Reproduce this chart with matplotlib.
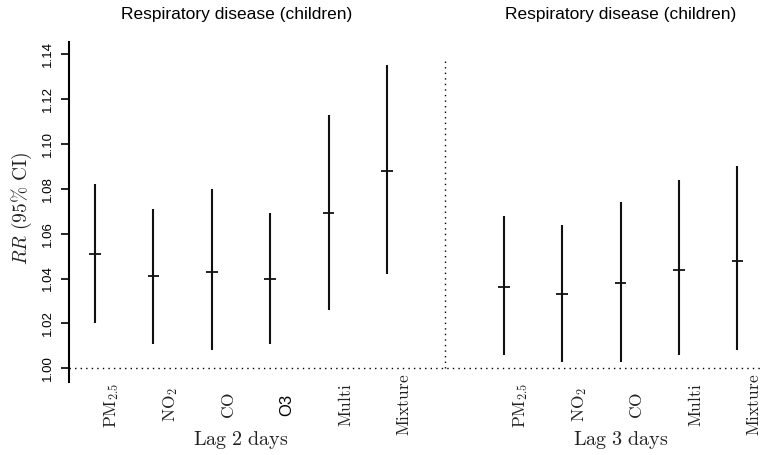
import matplotlib

matplotlib.use("Agg")
import matplotlib.pyplot as plt
import numpy as np

plt.rcParams["mathtext.fontset"] = "cm"
plt.rcParams["font.family"] = ["Liberation Sans", "DejaVu Sans"]

TITLE = "Respiratory disease (children)"

# lag 2 days
lag2_labels = [r"$\mathrm{PM}_{2.5}$", r"$\mathrm{NO}_2$", r"$\mathrm{CO}$", "O3",
               r"$\mathrm{Multi}$", r"$\mathrm{Mixture}$"]
lag2_rr = [1.051, 1.041, 1.043, 1.040, 1.069, 1.088]
lag2_lo = [1.020, 1.011, 1.008, 1.011, 1.026, 1.042]
lag2_hi = [1.082, 1.071, 1.080, 1.069, 1.113, 1.135]

# lag 3 days
lag3_labels = [r"$\mathrm{PM}_{2.5}$", r"$\mathrm{NO}_2$", r"$\mathrm{CO}$",
               r"$\mathrm{Multi}$", r"$\mathrm{Mixture}$"]
lag3_rr = [1.036, 1.033, 1.038, 1.044, 1.048]
lag3_lo = [1.006, 1.003, 1.003, 1.006, 1.008]
lag3_hi = [1.068, 1.064, 1.074, 1.084, 1.090]

yticks = [1.00, 1.02, 1.04, 1.06, 1.08, 1.10, 1.12, 1.14]

fig = plt.figure(figsize=(7.63, 4.55), dpi=100)
ax = fig.add_axes([0.0904, 0.1611, 0.9219, 0.7473])
ax.set_xlim(0.555, 12.6)
ax.set_ylim(0.994, 1.1456)

x2 = np.arange(1, len(lag2_rr) + 1)
x3 = np.arange(len(lag2_rr) + 2, len(lag2_rr) + 2 + len(lag3_rr))
div = len(lag2_rr) + 1

ink = "#111111"
for xs, rr, lo, hi in [(x2, lag2_rr, lag2_lo, lag2_hi), (x3, lag3_rr, lag3_lo, lag3_hi)]:
    ax.vlines(xs, lo, hi, color=ink, linewidth=1.5)
    ax.hlines(rr, xs - 0.1, xs + 0.1, color=ink, linewidth=1.3)

ax.plot([0.555, 12.6], [1.0, 1.0], linestyle=(0, (1, 3)), color="black", linewidth=1.0)
ax.plot([div, div], [1.0, 1.138], linestyle=(0, (1, 3)), color="black", linewidth=1.0)

for s in ["top", "right", "bottom"]:
    ax.spines[s].set_visible(False)
ax.spines["left"].set_linewidth(1.5)
ax.set_xticks([])
ax.set_yticks(yticks)
ax.set_yticklabels([f"{v:.2f}" for v in yticks])
ax.tick_params(axis="y", labelrotation=90, length=5.5, width=1.2, pad=5.5, labelsize=9.5)
for t in ax.get_yticklabels():
    t.set_va("center")

serif_col = "#222222"
for xs, labels in [(x2, lag2_labels), (x3, lag3_labels)]:
    for x, lab in zip(xs, labels):
        if lab.startswith("$"):
            ax.text(x + 0.29, 0.9836, lab, rotation=90, ha="center", va="center",
                    fontsize=12.5, color=serif_col, clip_on=False)
        else:
            ax.text(x + 0.29, 0.9836, lab, rotation=90, ha="center", va="center",
                    fontsize=12, color="black", clip_on=False)

ax.text(x2.mean(), 0.968, r"$\mathrm{Lag\ 2\ days}$", ha="center", va="center",
        fontsize=14.5, color=serif_col, clip_on=False)
ax.text(x3.mean(), 0.968, r"$\mathrm{Lag\ 3\ days}$", ha="center", va="center",
        fontsize=14.5, color=serif_col, clip_on=False)

ax.text(3.42, 1.1575, TITLE, ha="center", va="center", fontsize=12.5, clip_on=False)
ax.text(10.0, 1.1575, TITLE, ha="center", va="center", fontsize=12.5, clip_on=False)

fig.text(22 / 763, 1 - 209 / 455, r"$RR\ \mathrm{(95\%\ CI)}$", rotation=90,
         ha="center", va="center", fontsize=14, color=serif_col)

fig.savefig("out.png", dpi=100)
